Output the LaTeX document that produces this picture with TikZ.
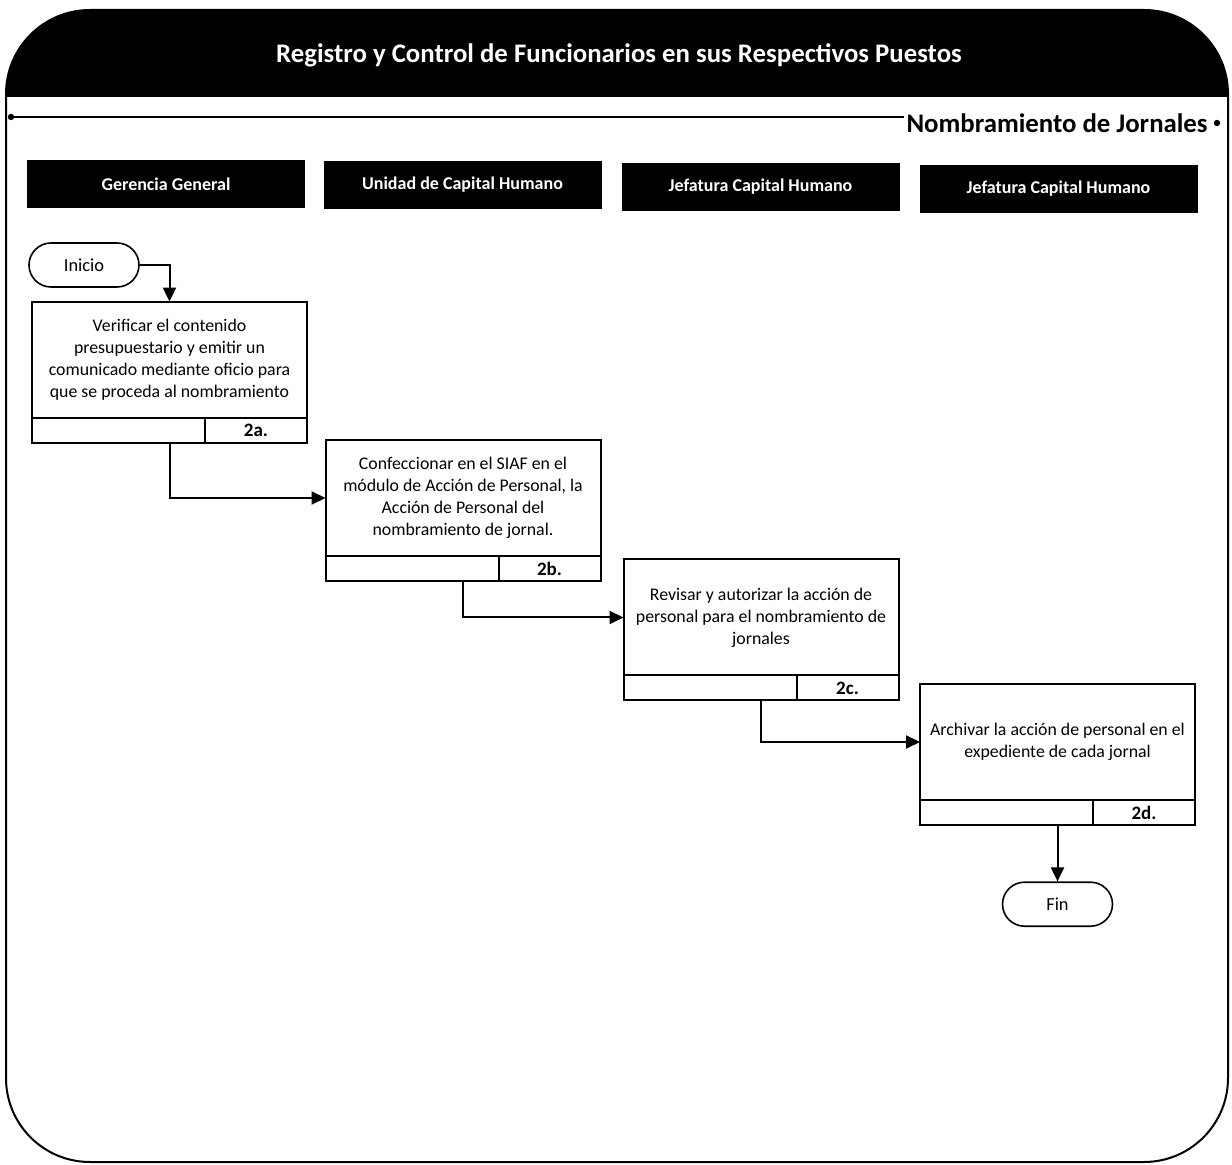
\documentclass[tikz,border=0pt]{standalone}
\usepackage{fontspec}
\setmainfont{Carlito}
\usepackage{tikz}
\usetikzlibrary{arrows.meta,positioning,fit}

\begin{document}
\begin{tikzpicture}[
  x=0.5pt, y=-0.5pt,
  lane/.style={fill=black, text=white, minimum width=139pt, minimum height=24pt, font=\fontsize{9}{10}\selectfont\bfseries},
  task/.style={draw, line width=1pt, outer sep=0pt, align=center, minimum width=137.5pt, minimum height=58pt, font=\fontsize{8.9}{11}\selectfont},
  code/.style={draw, line width=1pt, outer sep=0pt, minimum width=51pt, minimum height=12.5pt, inner sep=0pt, font=\fontsize{9.5}{10}\selectfont\bfseries},
  term/.style={draw, line width=0.8pt, rounded corners=11pt, minimum width=55pt, minimum height=22pt, font=\fontsize{9.2}{10}\selectfont},
  arrow/.style={-{Triangle[length=7pt, width=6.5pt]}, line width=1pt}
]
\useasboundingbox[fill=white] (0,0) rectangle (1232,1165);

% frame and header
\begin{scope}
  \clip[rounded corners=42pt] (6,10) rectangle (1228,1162);
  \fill[black] (0,0) rectangle (1232,97);
\end{scope}
\draw[line width=1pt, rounded corners=42pt] (6,10) rectangle (1228,1162);
\node[text=white, font=\fontsize{13.4}{15}\selectfont\bfseries] (title) at (619,55) {Registro y Control de Funcionarios en sus Respectivos Puestos};

\node[anchor=east, inner sep=1pt, font=\fontsize{13.4}{15}\selectfont\bfseries] (sub) at (1210,123) {Nombramiento de Jornales};
\coordinate (ldot) at (11,117);
\fill (ldot) circle (1.6pt);
\fill ([xshift=3.5pt]sub.east) circle (1.6pt);
\draw[line width=0.8pt] (ldot) -- (sub.west |- ldot);

% lanes
\node[lane] (lane1) at (166,184) {Gerencia General};
\node[lane] (lane2) at (462.5,185) {Unidad de Capital Humano};
\node[lane] (lane3) at (760.5,187) {Jefatura Capital Humano};
\node[lane] (lane4) at (1058.5,189) {Jefatura Capital Humano};

% tasks
\node[term] (inicio) at (84,265) {Inicio};

\node[task] (a) at (169.5,360) {Verificar el contenido\\presupuestario y emitir un\\comunicado mediante oficio para\\que se proceda al nombramiento};
\node[code, anchor=north east] (ca) at (a.south east) {2a.};
\draw[line width=1pt] (a.south west) -- (a.south west |- ca.south) -- (ca.south west);
\node[fit=(a)(ca), inner sep=0pt] (A) {};

\node[task] (b) at (463,498) {Confeccionar en el SIAF en el\\módulo de Acción de Personal, la\\Acción de Personal del\\nombramiento de jornal.};
\node[code, anchor=north east] (cb) at (b.south east) {2b.};
\draw[line width=1pt] (b.south west) -- (b.south west |- cb.south) -- (cb.south west);
\node[fit=(b)(cb), inner sep=0pt] (B) {};

\node[task] (c) at (761,617.5) {Revisar y autorizar la acción de\\personal para el nombramiento de\\jornales};
\node[code, anchor=north east] (cc) at (c.south east) {2c.};
\draw[line width=1pt] (c.south west) -- (c.south west |- cc.south) -- (cc.south west);
\node[fit=(c)(cc), inner sep=0pt] (C) {};

\node[task] (d) at (1057.5,742) {Archivar la acción de personal en el\\expediente de cada jornal};
\node[code, anchor=north east] (cd) at (d.south east) {2d.};
\draw[line width=1pt] (d.south west) -- (d.south west |- cd.south) -- (cd.south west);
\node[fit=(d)(cd), inner sep=0pt] (D) {};

\node[term, below=28pt of D] (fin) {Fin};

% flow
\draw[arrow] (inicio.east) -| (A.north);
\draw[arrow] (A.south) |- (b.west);
\draw[arrow] (B.south) |- (c.west);
\draw[arrow] (C.south) |- (d.west);
\draw[arrow] (D.south) -- (fin.north);

\end{tikzpicture}
\end{document}
